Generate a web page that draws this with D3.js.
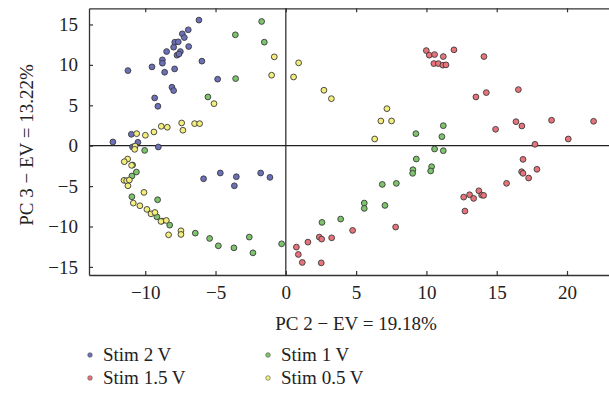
<!DOCTYPE html>
<html><head><meta charset="utf-8">
<script src="https://cdn.jsdelivr.net/npm/d3@7"></script>
<style>body{margin:0;background:#fff}svg{display:block}text{font-family:"Liberation Serif","Times New Roman",serif;fill:#222}</style>
</head><body><svg id="c" width="609" height="408"></svg>
<script>
const seriesNames = ["Stim 2 V", "Stim 1.5 V", "Stim 1 V", "Stim 0.5 V"];
const seriesColors = ["#6b70b8", "#e8737a", "#7dc46c", "#f3ee7c"];
const xTicks = [-10, -5, 0, 5, 10, 15, 20];
const yTicks = [-15, -10, -5, 0, 5, 10, 15];
const xTitle = "PC 2 \u2212 EV = 19.18%";
const yTitle = "PC 3 \u2212 EV = 13.22%";

const stim2V = [[-6.18,15.54],[-6.94,14.34],[-7.36,13.84],[-7.22,13.38],[-7.9,12.8],[-7.65,12.85],[-7.98,12.19],[-8.48,11.65],[-7.50,11.65],[-6.91,12.27],[-7.74,11.2],[-7.6,11.35],[-8.78,10.62],[-8.78,10.21],[-9.52,9.75],[-5.97,10.46],[-11.23,9.29],[-8.62,9.09],[-7.91,9.5],[-4.85,8.23],[-8.10,7.24],[-7.98,6.82],[-9.33,5.91],[-9.10,4.88],[-10.99,1.41],[-12.3,0.46],[-10.52,0.42],[-10.9,-0.16],[-9.07,-0.16],[-5.85,-4.09],[-4.66,-3.38],[-3.52,-3.84],[-3.66,-4.96],[-1.79,-3.38],[-1.13,-3.92]];
const stim15V = [[9.99,11.77],[10.2,11.2],[10.58,11.28],[11.2,11.03],[11.96,11.86],[10.53,10.16],[10.85,10.16],[11.17,9.96],[11.39,10.0],[13.52,6.03],[14.09,11.03],[14.26,6.57],[16.54,6.94],[14.92,2.03],[16.37,2.97],[16.79,2.44],[18.9,3.15],[21.89,3.02],[17.72,0.17],[20.09,0.83],[16.87,-1.69],[16.77,-3.22],[16.87,-3.42],[17.27,-4.0],[17.86,-2.92],[15.7,-4.66],[12.65,-6.36],[13.07,-6.07],[13.36,-6.52],[13.73,-5.58],[13.93,-6.11],[14.07,-6.15],[12.74,-8.09],[0.75,-12.55],[0.89,-13.46],[1.17,-14.45],[2.52,-14.5],[1.57,-11.93],[2.38,-11.31],[2.55,-11.56],[3.26,-11.4],[4.75,-10.48],[7.81,-10.07]];
const stim1V = [[-1.72,15.37],[-3.59,13.72],[-1.53,12.81],[-3.57,8.3],[-5.54,6.03],[-10.04,-0.58],[-10.90,-2.39],[-10.63,-3.26],[-10.95,-3.75],[-10.95,-6.32],[-9.12,-6.69],[-9.17,-8.8],[-8.81,-9.33],[-8.26,-9.83],[-6.44,-10.82],[-5.42,-11.48],[-4.80,-12.39],[-3.69,-12.64],[-2.60,-11.31],[-2.34,-13.26],[-0.30,-12.14],[11.2,2.48],[9.25,1.49],[11.1,1.12],[10.58,-0.41],[11.2,-0.62],[9.28,-1.65],[9.04,-2.97],[9.02,-3.42],[10.37,-2.60],[10.3,-3.13],[6.86,-4.79],[7.86,-4.66],[5.58,-7.10],[5.58,-7.76],[7.05,-7.39],[3.9,-9.08],[2.57,-9.49]];
const stim05V = [[-0.82,10.99],[-1.01,8.72],[0.55,8.5],[0.91,10.25],[2.71,6.86],[3.24,5.82],[7.19,4.58],[6.76,3.06],[7.52,3.06],[6.32,0.83],[-5.11,5.2],[-7.41,2.81],[-6.49,2.73],[-6.13,2.73],[-7.32,1.91],[-8.86,2.4],[-8.43,2.28],[-9.38,1.7],[-9.99,1.29],[-10.61,1.49],[-10.72,-0.05],[-10.75,-0.45],[-11.25,-1.65],[-11.49,-1.98],[-10.97,-2.43],[-11.51,-4.29],[-11.32,-4.34],[-11.13,-4.25],[-11.23,-4.96],[-10.09,-5.78],[-10.85,-7.1],[-10.38,-7.43],[-9.88,-7.88],[-9.59,-8.43],[-9.31,-8.26],[-8.88,-9.37],[-8.50,-9.25],[-8.34,-11.03],[-7.46,-10.53],[-7.46,-10.98]];

const allSeries = [stim2V, stim15V, stim1V, stim05V];

const svg = d3.select("#c");
const L = 89, T = 8.3, R = 612, B = 275;
const x = d3.scaleLinear().domain([-14, 23.2]).range([L, R]);
const y = d3.scaleLinear().domain([17, -16]).range([T, B]);
const axisCol = "#333";

// zero lines
svg.append("line").attr("x1", x(0)).attr("x2", x(0)).attr("y1", T).attr("y2", B).attr("stroke", "#222").attr("stroke-width", 1.2);
svg.append("line").attr("x1", L).attr("x2", R).attr("y1", y(0)).attr("y2", y(0)).attr("stroke", "#222").attr("stroke-width", 1.2);

// axes (ticks inside)
const fs = 19;
const gx = svg.append("g").attr("transform", `translate(0,${B})`)
  .call(d3.axisBottom(x).tickValues(xTicks).tickSizeInner(-4).tickSizeOuter(0).tickPadding(10).tickFormat(d => d < 0 ? "\u2212" + Math.abs(d) : d));
const gxt = svg.append("g").attr("transform", `translate(0,${T})`)
  .call(d3.axisTop(x).tickValues(xTicks).tickSizeInner(-4).tickSizeOuter(0).tickFormat(""));
const gy = svg.append("g").attr("transform", `translate(${L},0)`)
  .call(d3.axisLeft(y).tickValues(yTicks).tickSizeInner(-4).tickSizeOuter(0).tickPadding(10).tickFormat(d => d < 0 ? "\u2212" + Math.abs(d) : d));
[gx, gxt, gy].forEach(g => {
  g.select(".domain").attr("stroke", axisCol).attr("stroke-width", 1.3);
  g.selectAll(".tick line").attr("stroke", axisCol).attr("stroke-width", 1.2);
  g.selectAll(".tick text").attr("font-size", fs).attr("font-family", "Liberation Serif").attr("fill", "#222");
});
gx.selectAll(".tick text").attr("dy", "0.75em");
gy.selectAll(".tick text").attr("dx", "-1");

// points
allSeries.forEach((s, i) => {
  svg.append("g").selectAll("circle").data(s).join("circle")
    .attr("cx", d => x(d[0])).attr("cy", d => y(d[1])).attr("r", 2.9)
    .attr("fill", seriesColors[i]).attr("stroke", "#3a3a3a").attr("stroke-width", 0.9);
});

// titles
svg.append("text").attr("x", 356).attr("y", 330).attr("text-anchor", "middle").attr("font-size", fs).text(xTitle);
svg.append("text").attr("transform", `translate(33,145) rotate(-90)`).attr("text-anchor", "middle").attr("font-size", fs).text(yTitle);

// legend
const legPos = [[90, 355], [90, 378], [268, 355], [268, 378]];
seriesNames.forEach((n, i) => {
  const [lx, ly] = legPos[i];
  svg.append("circle").attr("cx", lx).attr("cy", ly).attr("r", 2.3).attr("fill", seriesColors[i]).attr("stroke", "#555").attr("stroke-width", 0.6);
  svg.append("text").attr("x", lx + 13).attr("y", ly + 6).attr("font-size", fs).text(n);
});
</script></body></html>
